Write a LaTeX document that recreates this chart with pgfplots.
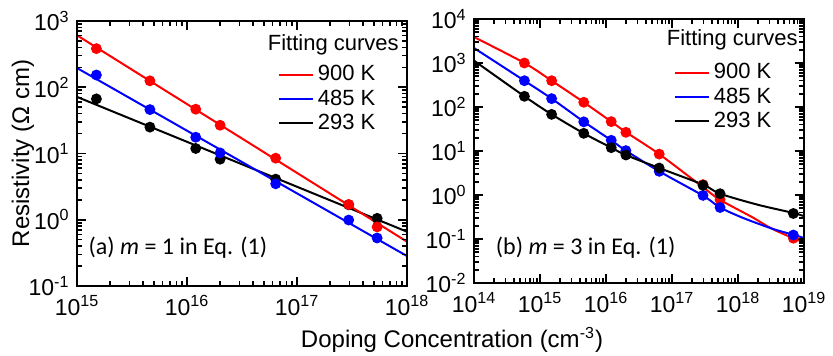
\documentclass[border=0pt]{standalone}
\usepackage{fontspec}
\setmainfont{Liberation Sans}
\newfontfamily\calib{Carlito}
\usepackage{pgfplots}
\pgfplotsset{compat=1.18}
\begin{document}
\begin{tikzpicture}
\useasboundingbox (0,0) rectangle (416.5pt,178pt);
% ---------------- panel (a)
\begin{axis}[
  xmode=log, ymode=log, log basis x=10, log basis y=10,
  scale only axis, width=165pt, height=132.5pt,
  at={(38.5pt,35pt)}, anchor=south west,
  xmin=1e15, xmax=1e18, ymin=1e-1, ymax=1e3,
  xtick={1e15,1e16,1e17,1e18}, ytick={1e-1,1,10,100,1000},
  minor xtick={2e15,3e15,4e15,5e15,6e15,7e15,8e15,9e15,2e16,3e16,4e16,5e16,6e16,7e16,8e16,9e16,2e17,3e17,4e17,5e17,6e17,7e17,8e17,9e17},
  minor ytick={0.2,0.3,0.4,0.5,0.6,0.7,0.8,0.9,2,3,4,5,6,7,8,9,20,30,40,50,60,70,80,90,200,300,400,500,600,700,800,900},
  xmajorticks=true, xminorticks=true, ymajorticks=true, yminorticks=true,
  axis on top,
  xtick align=inside, ytick align=inside,
  tickwidth=4.5pt, subtickwidth=2.5pt,
  every tick/.style={black, line width=0.8pt},
  every axis/.append style={line width=0.8pt},
  xticklabels={10\textsuperscript{15},10\textsuperscript{16},10\textsuperscript{17},10\textsuperscript{18}},
  yticklabels={10\textsuperscript{-1},10\textsuperscript{0},10\textsuperscript{1},10\textsuperscript{2},10\textsuperscript{3}},
  tick label style={font=\fontsize{11.5}{13}\selectfont},
  xticklabel style={yshift=-1pt},
  ylabel={Resistivity (Ω cm)},
  ylabel style={font=\fontsize{12}{14}\selectfont, at={(axis description cs:-0.164,0.5)}, anchor=center},
  legend style={at={(axis description cs:0.606,0.85)}, draw=none, fill=none, font=\fontsize{11}{11}\selectfont, anchor=north west, inner sep=0pt, row sep=-1pt},
  legend cell align=left,
]
\addlegendimage{red, line width=1pt}\addlegendentry{900 K}
\addlegendimage{blue, line width=1pt}\addlegendentry{485 K}
\addlegendimage{black, line width=1pt}\addlegendentry{293 K}
\addplot[black, line width=1pt, forget plot] coordinates {(1e15,71.5) (1e18,0.66)};
\addplot[blue, line width=1pt, forget plot] coordinates {(1e15,195) (1e18,0.283)};
\addplot[red, line width=1pt, forget plot] coordinates {(1e15,608) (1e18,0.466)};
\addplot[black, only marks, mark=*, mark size=2.3pt, forget plot] coordinates {(1.5e15,66.7) (4.6e15,25) (1.2e16,11.9) (2e16,8.2) (6.4e16,4.1) (2.95e17,1.68) (5.35e17,1.05)};
\addplot[blue, only marks, mark=*, mark size=2.3pt, forget plot] coordinates {(1.5e15,153) (4.6e15,46) (1.2e16,17.6) (2e16,10.2) (6.4e16,3.49) (2.95e17,0.99) (5.35e17,0.53)};
\addplot[red, only marks, mark=*, mark size=2.3pt, forget plot] coordinates {(1.5e15,383) (4.6e15,125) (1.2e16,46.6) (2e16,26.7) (6.4e16,8.5) (2.95e17,1.70) (5.35e17,0.78)};
\node[anchor=west, font=\fontsize{11}{12}\selectfont, inner sep=0pt] at (axis description cs:0.576,0.909) {Fitting curves};
\node[anchor=west, font=\calib\fontsize{12}{14}\selectfont, inner sep=0pt] at (axis description cs:0.033,0.143) {(a) \textit{m} = 1 in Eq. (1)};
\end{axis}
% ---------------- panel (b)
\begin{axis}[
  xmode=log, ymode=log, log basis x=10, log basis y=10,
  scale only axis, width=165pt, height=132pt,
  at={(237pt,36.5pt)}, anchor=south west,
  xmin=1e14, xmax=1e19, ymin=1e-2, ymax=1e4,
  xtick={1e14,1e15,1e16,1e17,1e18,1e19}, ytick={1e-2,1e-1,1,10,100,1000,1e4},
  minor xtick={2e14,3e14,4e14,5e14,6e14,7e14,8e14,9e14,2e15,3e15,4e15,5e15,6e15,7e15,8e15,9e15,2e16,3e16,4e16,5e16,6e16,7e16,8e16,9e16,2e17,3e17,4e17,5e17,6e17,7e17,8e17,9e17,2e18,3e18,4e18,5e18,6e18,7e18,8e18,9e18},
  minor ytick={0.02,0.03,0.04,0.05,0.06,0.07,0.08,0.09,0.2,0.3,0.4,0.5,0.6,0.7,0.8,0.9,2,3,4,5,6,7,8,9,20,30,40,50,60,70,80,90,200,300,400,500,600,700,800,900,2000,3000,4000,5000,6000,7000,8000,9000},
  xmajorticks=true, xminorticks=true, ymajorticks=true, yminorticks=true,
  axis on top,
  xtick align=inside, ytick align=inside,
  tickwidth=4.5pt, subtickwidth=2.5pt,
  every tick/.style={black, line width=0.8pt},
  every axis/.append style={line width=0.8pt},
  xticklabels={10\textsuperscript{14},10\textsuperscript{15},10\textsuperscript{16},10\textsuperscript{17},10\textsuperscript{18},10\textsuperscript{19}},
  yticklabels={10\textsuperscript{-2},10\textsuperscript{-1},10\textsuperscript{0},10\textsuperscript{1},10\textsuperscript{2},10\textsuperscript{3},10\textsuperscript{4}},
  tick label style={font=\fontsize{11.5}{13}\selectfont},
  xticklabel style={yshift=-1pt},
  legend style={at={(axis description cs:0.603,0.85)}, draw=none, fill=none, font=\fontsize{11}{11}\selectfont, anchor=north west, inner sep=0pt, row sep=-1pt},
  legend cell align=left,
]
\addlegendimage{red, line width=1pt}\addlegendentry{900 K}
\addlegendimage{blue, line width=1pt}\addlegendentry{485 K}
\addlegendimage{black, line width=1pt}\addlegendentry{293 K}
\addplot[red, line width=1pt, forget plot, smooth, tension=0.5] coordinates {(1e14,3890) (5.8e14,1000) (1.5e15,396) (4.6e15,128) (1.2e16,46.5) (2e16,26.9) (6.4e16,8.5) (2.95e17,1.5) (5.35e17,0.776) (1.6e18,0.32) (3.2e18,0.174) (6.9e18,0.104) (1e19,0.085)};
\addplot[blue, line width=1pt, forget plot, smooth, tension=0.5] coordinates {(1e14,2190) (5.8e14,396) (1.5e15,155) (4.6e15,46.4) (1.2e16,17.5) (2e16,10.2) (6.4e16,3.45) (2.95e17,0.966) (5.35e17,0.52) (1.2e18,0.30) (3.4e18,0.169) (6.9e18,0.125) (1e19,0.105)};
\addplot[black, line width=1pt, forget plot, smooth, tension=0.5] coordinates {(1e14,1130) (5.8e14,175) (1.5e15,68) (4.6e15,25.2) (1.2e16,11.9) (2e16,8.1) (6.4e16,4.1) (2.95e17,1.72) (5.35e17,1.07) (2e18,0.60) (6.9e18,0.39) (1e19,0.33)};
\addplot[red, only marks, mark=*, mark size=2.3pt, forget plot] coordinates {(5.8e14,1000) (1.5e15,396) (4.6e15,128) (1.2e16,46.5) (2e16,26.6) (6.4e16,8.5) (2.95e17,1.72) (5.35e17,0.78) (6.9e18,0.104)};
\addplot[blue, only marks, mark=*, mark size=2.3pt, forget plot] coordinates {(5.8e14,396) (1.5e15,155) (4.6e15,46) (1.2e16,17.5) (2e16,10.2) (6.4e16,3.45) (2.95e17,0.98) (5.35e17,0.52) (6.9e18,0.123)};
\addplot[black, only marks, mark=*, mark size=2.3pt, forget plot] coordinates {(5.8e14,175) (1.5e15,68) (4.6e15,25.2) (1.2e16,11.9) (2e16,8.1) (6.4e16,4.1) (2.95e17,1.66) (5.35e17,1.07) (6.9e18,0.38)};
\node[anchor=west, font=\fontsize{11}{12}\selectfont, inner sep=0pt] at (axis description cs:0.582,0.92) {Fitting curves};
\node[anchor=west, font=\calib\fontsize{12}{14}\selectfont, inner sep=0pt] at (axis description cs:0.064,0.133) {(b) \textit{m} = 3 in Eq. (1)};
\end{axis}
\node[font=\fontsize{12}{14}\selectfont] at (226pt,8pt) {Doping Concentration (cm\textsuperscript{-3})};
\end{tikzpicture}
\end{document}
